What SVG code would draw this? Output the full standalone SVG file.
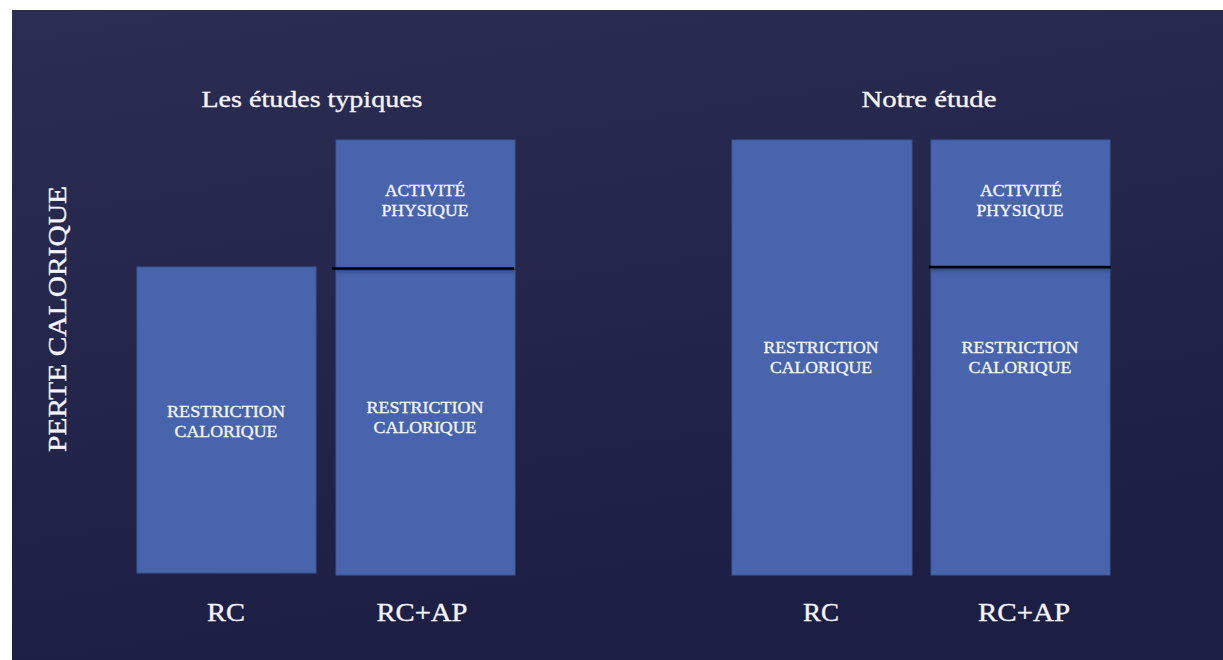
<svg xmlns="http://www.w3.org/2000/svg" width="1223" height="660" viewBox="0 0 1223 660">
<defs>
<linearGradient id="bg" x1="0" y1="0" x2="0.3" y2="1">
<stop offset="0" stop-color="#2b2d52"/>
<stop offset="1" stop-color="#1c1e43"/>
</linearGradient>
<linearGradient id="sh" x1="0" y1="0" x2="0" y2="1">
<stop offset="0" stop-color="#2a3d78" stop-opacity="0.6"/>
<stop offset="1" stop-color="#4764ac" stop-opacity="0"/>
</linearGradient>
<style>
.bar{fill:#4764ac;stroke:#3d5898;stroke-width:1}
.sep{stroke:#000;stroke-width:2.5}
.t{font-family:"Liberation Serif","Times New Roman",serif;fill:#f4f4fa;stroke:#f4f4fa;stroke-width:0.35;text-anchor:middle}
.title{font-size:24px}
.lab{font-size:16.5px}
.ax{font-size:25px}
</style>
</defs>
<rect x="0" y="0" width="1223" height="660" fill="#ffffff"/>
<rect x="12" y="10" width="1211" height="650" fill="url(#bg)"/>

<text class="t title" x="312" y="107" textLength="221" lengthAdjust="spacingAndGlyphs">Les études typiques</text>
<text class="t title" x="929" y="107" textLength="135" lengthAdjust="spacingAndGlyphs">Notre étude</text>

<text class="t ax" transform="translate(66,319) rotate(-90)" x="0" y="0" textLength="266" lengthAdjust="spacingAndGlyphs">PERTE CALORIQUE</text>

<g id="left-rc">
<rect class="bar" x="137" y="267" width="179" height="306"/>
<text class="t lab" x="226" y="417" textLength="118" lengthAdjust="spacingAndGlyphs">RESTRICTION</text>
<text class="t lab" x="226" y="437" textLength="103" lengthAdjust="spacingAndGlyphs">CALORIQUE</text>
</g>

<g id="left-rcap-ap">
<rect class="bar" x="336" y="140" width="179" height="128"/>
<text class="t lab" x="425" y="196" textLength="80" lengthAdjust="spacingAndGlyphs">ACTIVITÉ</text>
<text class="t lab" x="425" y="216" textLength="87" lengthAdjust="spacingAndGlyphs">PHYSIQUE</text>
</g>
<g id="left-rcap-rc">
<rect class="bar" x="336" y="270" width="179" height="305"/>
<rect x="336.5" y="270" width="178" height="8" fill="url(#sh)"/>
<text class="t lab" x="425" y="413" textLength="117" lengthAdjust="spacingAndGlyphs">RESTRICTION</text>
<text class="t lab" x="425" y="433" textLength="103" lengthAdjust="spacingAndGlyphs">CALORIQUE</text>
</g>

<g id="right-rc">
<rect class="bar" x="732" y="140" width="180" height="435"/>
<text class="t lab" x="821" y="353" textLength="115" lengthAdjust="spacingAndGlyphs">RESTRICTION</text>
<text class="t lab" x="821" y="373" textLength="102" lengthAdjust="spacingAndGlyphs">CALORIQUE</text>
</g>

<g id="right-rcap-ap">
<rect class="bar" x="931" y="140" width="179" height="127"/>
<text class="t lab" x="1021" y="196" textLength="82" lengthAdjust="spacingAndGlyphs">ACTIVITÉ</text>
<text class="t lab" x="1020" y="216" textLength="87" lengthAdjust="spacingAndGlyphs">PHYSIQUE</text>
</g>
<g id="right-rcap-rc">
<rect class="bar" x="931" y="269" width="179" height="306"/>
<rect x="931.5" y="269" width="178" height="8" fill="url(#sh)"/>
<text class="t lab" x="1020" y="353" textLength="117" lengthAdjust="spacingAndGlyphs">RESTRICTION</text>
<text class="t lab" x="1020" y="373" textLength="103" lengthAdjust="spacingAndGlyphs">CALORIQUE</text>
</g>

<g id="connectors">
<line class="sep" x1="332" y1="268.5" x2="514" y2="268.5"/>
<line class="sep" x1="929" y1="267" x2="1111" y2="267"/>
</g>

<g id="axis-labels">
<text class="t ax" x="226" y="621" textLength="38" lengthAdjust="spacingAndGlyphs">RC</text>
<text class="t ax" x="422" y="621" textLength="91" lengthAdjust="spacingAndGlyphs">RC+AP</text>
<text class="t ax" x="821" y="621" textLength="36" lengthAdjust="spacingAndGlyphs">RC</text>
<text class="t ax" x="1024" y="621" textLength="92" lengthAdjust="spacingAndGlyphs">RC+AP</text>
</g>
</svg>
